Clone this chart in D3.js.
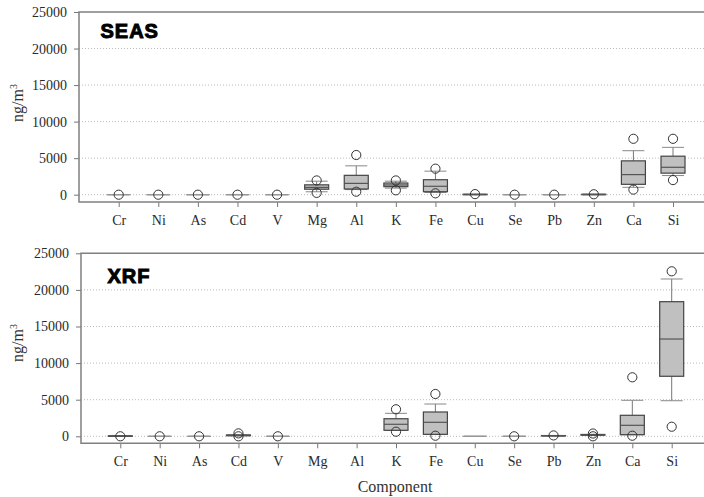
<!DOCTYPE html>
<html>
<head>
<meta charset="utf-8">
<script src="https://cdn.jsdelivr.net/npm/d3@7"></script>
<style>
  body { margin: 0; background: #fff; }
  svg { display: block; }
  .tick line { stroke: #777; }
  .domain { display: none; }
</style>
</head>
<body>
<div class="vizcontainer"></div>
<script>
const components = ["Cr", "Ni", "As", "Cd", "V", "Mg", "Al", "K", "Fe", "Cu", "Se", "Pb", "Zn", "Ca", "Si"];
const yTicks = [0, 5000, 10000, 15000, 20000, 25000];

// SEAS (null = no data)
const seasWhiskerLo = [0, 0, 0, 0, 0, 400, 700, 900, 300, 0, 0, 0, 0, 1010, 2620];
const seasQ1 =        [0, 0, 0, 0, 0, 750, 780, 1100, 410, 0, 0, 0, 0, 1420, 2950];
const seasMedian =    [0, 0, 0, 0, 0, 1000, 1550, 1330, 1150, 30, 0, 0, 30, 2750, 3750];
const seasQ3 =        [0, 0, 0, 0, 0, 1350, 2650, 1600, 2050, 60, 0, 0, 60, 4630, 5270];
const seasWhiskerHi = [0, 0, 0, 0, 0, 1850, 3950, 1850, 3220, 60, 0, 0, 60, 6020, 6480];
const seasOutliers = [[0], [0], [0], [0], [0], [250, 1950], [410, 5430], [600, 1950], [190, 3560],
                      [80], [0], [0], [60], [700, 7650], [2000, 7650]];

// XRF
const xrfWhiskerLo = [0, 0, 0, 80, 0, null, null, 820, 270, 0, 0, 50, 150, 220, 4860];
const xrfQ1 =        [0, 0, 0, 80, 0, null, null, 820, 270, 0, 0, 50, 150, 220, 8200];
const xrfMedian =    [30, 0, 0, 130, 0, null, null, 1640, 1910, 0, 0, 80, 200, 1500, 13290];
const xrfQ3 =        [60, 0, 0, 180, 0, null, null, 2400, 3320, 0, 0, 100, 250, 2870, 18390];
const xrfWhiskerHi = [60, 0, 0, 180, 0, null, null, 3140, 4410, 0, 0, 100, 250, 4920, 21490];
const xrfOutliers = [[0], [0], [0], [0, 400], [0], [], [], [630, 3690], [80, 5780],
                     [], [0], [120], [0, 380], [80, 8060], [1310, 22540]];

const width = 704, height = 497;
const serif = "'Times New Roman', 'Liberation Serif', 'DejaVu Serif', serif";

var svg = d3.select(".vizcontainer")
  .append("svg")
  .attr("width", width)
  .attr("height", height);

function panel(opts, lo, q1, med, q3, hi, outl) {
  var g = svg.append("g");

  var y = d3.scaleLinear().domain([0, 25000]).range([opts.y0, opts.top]);
  var x = d3.scalePoint().domain(components).range([opts.xFirst, opts.xLast]);

  // grid
  g.selectAll("line.grid")
    .data(yTicks.slice(0, -1))
    .enter()
    .append("line")
    .attr("x1", opts.left).attr("x2", width)
    .attr("y1", d => y(d)).attr("y2", d => y(d))
    .style("stroke", "#bbb")
    .style("stroke-dasharray", "1,2");

  var yAxis = d3.axisLeft(y).tickValues(yTicks).tickSize(5).tickPadding(7).tickFormat(d3.format("d"));
  g.append("g").attr("transform", "translate(" + opts.left + ",0)").call(yAxis)
    .attr("font-family", serif).attr("font-size", 14);

  var xAxis = d3.axisBottom(x).tickSize(5).tickPadding(8);
  g.append("g").attr("transform", "translate(0," + opts.bottom + ")").call(xAxis)
    .attr("font-family", serif).attr("font-size", 14);

  g.selectAll(".tick text").attr("fill", "#2a2a2a");

  // frame
  g.append("path")
    .attr("d", "M" + width + "," + opts.top + "H" + opts.left + "V" + opts.bottom + "H" + width)
    .style("fill", "none")
    .style("stroke", "#808080")
    .style("stroke-width", 1.5);

  var bw = 12, cw = 11;
  var idx = d3.range(components.length).filter(i => q1[i] !== null);

  var boxes = g.selectAll("g.box").data(idx).enter().append("g");

  boxes.append("line")
    .attr("x1", i => x(components[i])).attr("x2", i => x(components[i]))
    .attr("y1", i => y(hi[i])).attr("y2", i => y(q3[i]))
    .style("stroke", "#777");
  boxes.append("line")
    .attr("x1", i => x(components[i])).attr("x2", i => x(components[i]))
    .attr("y1", i => y(lo[i])).attr("y2", i => y(q1[i]))
    .style("stroke", "#777");
  boxes.selectAll("line.cap")
    .data(i => [[i, hi[i]], [i, lo[i]]])
    .enter()
    .append("line")
    .attr("x1", d => x(components[d[0]]) - cw).attr("x2", d => x(components[d[0]]) + cw)
    .attr("y1", d => y(d[1])).attr("y2", d => y(d[1]))
    .style("stroke", "#888");
  boxes.append("rect")
    .attr("x", i => x(components[i]) - bw)
    .attr("width", bw * 2)
    .attr("y", i => y(q3[i]))
    .attr("height", i => y(q1[i]) - y(q3[i]))
    .style("fill", "#c0c0c0")
    .style("stroke", "#444")
    .style("stroke-width", 1.2);
  boxes.append("line")
    .attr("x1", i => x(components[i]) - bw).attr("x2", i => x(components[i]) + bw)
    .attr("y1", i => y(med[i])).attr("y2", i => y(med[i]))
    .style("stroke", i => q3[i] > q1[i] ? "#555" : "#999")
    .style("stroke-width", 1.2);

  var pts = [];
  outl.forEach((arr, i) => arr.forEach(v => pts.push([i, v])));
  g.selectAll("circle")
    .data(pts)
    .enter()
    .append("circle")
    .attr("cx", d => x(components[d[0]]))
    .attr("cy", d => y(d[1]))
    .attr("r", 4.6)
    .style("fill", "none")
    .style("stroke", "#333")
    .style("stroke-width", 1);

  // title
  g.append("text")
    .attr("x", opts.titleX)
    .attr("y", opts.titleY)
    .attr("font-family", "'Liberation Sans', Arial, sans-serif")
    .style("font-weight", "bold")
    .style("font-size", "20px")
    .style("letter-spacing", "1px")
    .style("stroke", "#000")
    .style("stroke-width", 1)
    .text(opts.title);

  // y label
  var yl = g.append("text")
    .attr("transform", "translate(23," + opts.labelY + ") rotate(-90)")
    .attr("text-anchor", "middle")
    .attr("font-family", serif)
    .style("font-size", "16px")
    .style("fill", "#333");
  yl.append("tspan").text("ng/m");
  yl.append("tspan").attr("dy", -6).style("font-size", "10px").text("3");
}

panel({ left: 79, top: 12, bottom: 202, y0: 194.7, xFirst: 118.7, xLast: 673,
        title: "SEAS", titleX: 100.5, titleY: 38.3, labelY: 103 },
      seasWhiskerLo, seasQ1, seasMedian, seasQ3, seasWhiskerHi, seasOutliers);

panel({ left: 81, top: 253.3, bottom: 443.3, y0: 436.3, xFirst: 120.3, xLast: 671.7,
        title: "XRF", titleX: 107.5, titleY: 283, labelY: 343 },
      xrfWhiskerLo, xrfQ1, xrfMedian, xrfQ3, xrfWhiskerHi, xrfOutliers);

svg.append("text")
  .attr("x", 395)
  .attr("y", 491.7)
  .attr("text-anchor", "middle")
  .attr("font-family", serif)
  .style("font-size", "16px")
  .style("fill", "#333")
  .text("Component");
</script>
</body>
</html>
